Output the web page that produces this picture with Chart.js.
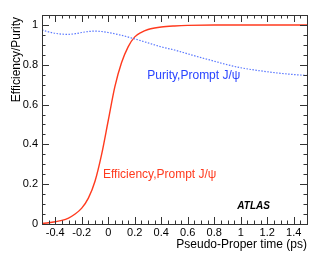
<!DOCTYPE html>
<html>
<head>
<meta charset="utf-8">
<script src="https://cdn.jsdelivr.net/npm/chart.js@4.4.1/dist/chart.umd.min.js"></script>
<style>
  html, body { margin: 0; padding: 0; background: #fff; }
  #wrap { width: 327px; height: 269px; }
</style>
</head>
<body>
<div id="wrap"><canvas id="chart"></canvas></div>
<script>
// efficiency of prompt J/psi vs pseudo-proper time
const effTime = [-0.5, -0.45, -0.4, -0.35, -0.3, -0.25, -0.2, -0.15, -0.1, -0.05, 0, 0.05, 0.1, 0.15, 0.2, 0.25, 0.3, 0.35, 0.4, 0.5, 0.6, 0.8, 1.0, 1.2, 1.5]
const effValue = [0.003, 0.006, 0.011, 0.018, 0.03, 0.05, 0.08, 0.13, 0.215, 0.35, 0.52, 0.69, 0.81, 0.89, 0.94, 0.963, 0.977, 0.985, 0.99, 0.995, 0.998, 1.0, 1.0, 1.0, 1.0]

// purity of prompt J/psi
const purTime = [-0.5, -0.45, -0.4, -0.35, -0.3, -0.25, -0.2, -0.15, -0.1, -0.05, 0, 0.1, 0.2, 0.3, 0.4, 0.5, 0.6, 0.7, 0.8, 0.9, 1.0, 1.1, 1.2, 1.3, 1.4, 1.5]
const purValue = [0.975, 0.965, 0.958, 0.954, 0.953, 0.956, 0.962, 0.967, 0.969, 0.967, 0.962, 0.948, 0.93, 0.91, 0.89, 0.874, 0.855, 0.836, 0.818, 0.8, 0.785, 0.774, 0.765, 0.757, 0.751, 0.746]

const xTickLabels = [-0.4, -0.2, 0, 0.2, 0.4, 0.6, 0.8, 1, 1.2, 1.4]
const yTickLabels = [0, 0.2, 0.4, 0.6, 0.8, 1]

const FONT = '"Liberation Sans", Arial, Helvetica, sans-serif'

function toPoints(xs, ys) {
    return xs.map((x, i) => ({ x: x, y: ys[i] }))
}

function fmt(v) {
    return String(Math.round(v * 10) / 10)
}

// ROOT style: frame with inward ticks on all sides, plus the text labels
const rootFrame = {
    id: 'rootFrame',
    afterDraw(chart) {
        const ctx = chart.ctx
        const a = chart.chartArea
        const xs = chart.scales.x
        const ys = chart.scales.y
        ctx.save()
        ctx.strokeStyle = '#333'
        ctx.lineWidth = 1
        ctx.beginPath()

        for (let i = -10; i <= 30; i++) {
            const v = i * 0.05
            if (v < xs.min - 1e-9 || v > xs.max + 1e-9) continue
            const px = Math.round(xs.getPixelForValue(v)) + 0.5
            const len = (i % 4 === 0) ? 7 : 3.5
            ctx.moveTo(px, a.bottom); ctx.lineTo(px, a.bottom - len)
            ctx.moveTo(px, a.top); ctx.lineTo(px, a.top + len)
        }
        for (let i = 0; i <= 21; i++) {
            const v = i * 0.05
            if (v > ys.max + 1e-9) continue
            const py = Math.round(ys.getPixelForValue(v)) + 0.5
            const len = (i % 4 === 0) ? 7 : 3.5
            ctx.moveTo(a.left, py); ctx.lineTo(a.left + len, py)
            ctx.moveTo(a.right, py); ctx.lineTo(a.right - len, py)
        }
        ctx.stroke()
        ctx.strokeRect(Math.round(a.left) + 0.5, Math.round(a.top) + 0.5,
            Math.round(a.right - a.left), Math.round(a.bottom - a.top))

        ctx.textBaseline = 'middle'
        ctx.font = '12px ' + FONT
        ctx.fillStyle = '#2a44ff'
        ctx.textAlign = 'left'
        ctx.fillText('Purity,Prompt J/\u03c8', xs.getPixelForValue(0.295), ys.getPixelForValue(0.745))
        ctx.fillStyle = '#ff3a1e'
        ctx.fillText('Efficiency,Prompt J/\u03c8', xs.getPixelForValue(-0.04), ys.getPixelForValue(0.247))
        ctx.fillStyle = '#000'
        ctx.font = 'italic bold 10px ' + FONT
        ctx.textAlign = 'right'
        ctx.fillText('ATLAS', xs.getPixelForValue(1.22), ys.getPixelForValue(0.09))

        // y axis title, right aligned at the top of the frame
        ctx.save()
        ctx.translate(17, a.top + 2)
        ctx.rotate(-Math.PI / 2)
        ctx.font = '12px ' + FONT
        ctx.textAlign = 'right'
        ctx.fillText('Efficiency/Purity', 0, 0)
        ctx.restore()
        ctx.restore()
    }
}

const chart = document.getElementById('chart')
const data = {
    datasets: [{
        label: 'Purity',
        data: toPoints(purTime, purValue),
        borderColor: '#5a78ff',
        borderWidth: 1.2,
        borderDash: [1.5, 1.5],
        pointRadius: 0,
        cubicInterpolationMode: 'monotone',
        fill: false
    }, {
        label: 'Efficiency',
        data: toPoints(effTime, effValue),
        borderColor: '#ff3a1e',
        borderWidth: 1.4,
        pointRadius: 0,
        cubicInterpolationMode: 'monotone',
        fill: false
    }]
}

const config = {
    type: 'line',
    data: data,
    options: {
        responsive: true,
        maintainAspectRatio: false,
        animation: false,
        layout: {
            padding: { left: 0, right: 20, top: 15, bottom: 17 }
        },
        plugins: {
            legend: { display: false },
            tooltip: { enabled: false }
        },
        scales: {
            x: {
                type: 'linear',
                min: -0.5,
                max: 1.5,
                grid: { display: false, drawTicks: false },
                border: { display: false },
                afterBuildTicks: (s) => { s.ticks = xTickLabels.map(v => ({ value: v })) },
                afterFit: (s) => { s.height = 28 },
                ticks: {
                    autoSkip: false,
                    maxRotation: 0,
                    padding: 2,
                    color: '#000',
                    font: { family: FONT, size: 11 },
                    callback: (v) => fmt(v)
                },
                title: {
                    display: true,
                    text: 'Pseudo-Proper time (ps)',
                    align: 'end',
                    color: '#000',
                    font: { family: FONT, size: 12 },
                    padding: { top: 0, bottom: 0 }
                }
            },
            y: {
                min: 0,
                max: 1.05,
                grid: { display: false, drawTicks: false },
                border: { display: false },
                afterBuildTicks: (s) => { s.ticks = yTickLabels.map(v => ({ value: v })) },
                afterFit: (s) => { s.width = 42 },
                ticks: {
                    autoSkip: false,
                    padding: 4,
                    color: '#000',
                    font: { family: FONT, size: 11 },
                    callback: (v) => fmt(v)
                }
            }
        }
    },
    plugins: [rootFrame]
}

new Chart(chart, config)
</script>
</body>
</html>
